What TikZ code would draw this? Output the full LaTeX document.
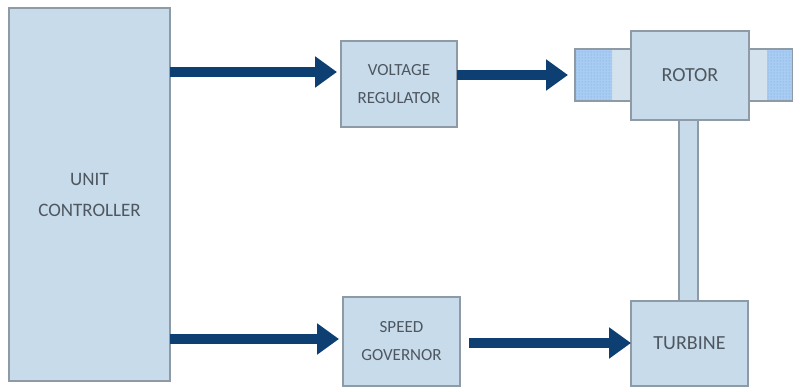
\documentclass[tikz,border=0pt]{standalone}
\usepackage{fontspec}
\setmainfont{Carlito}
\usetikzlibrary{arrows.meta,patterns}
\definecolor{boxfill}{HTML}{C8DBEA}
\definecolor{boxline}{HTML}{8E9BA6}
\definecolor{stubfill}{HTML}{D4E2EE}
\definecolor{coilfill}{HTML}{A9CDF2}
\definecolor{coildot}{HTML}{6FA0DA}
\definecolor{arrowcol}{HTML}{0D3F73}
\definecolor{labelcol}{HTML}{4E575F}
\tikzset{
  block/.style={draw=boxline, fill=boxfill, line width=1.2pt, inner sep=0pt, outer sep=0pt,
    text=labelcol, align=center, font=\fontsize{17}{28}\selectfont},
  flow/.style={draw=arrowcol, line width=10pt, -{Triangle[length=22pt,width=30pt]}},
  part/.style={draw=boxline, line width=1.2pt},
}
\begin{document}
\begin{tikzpicture}[x=1pt,y=-1pt]
\fill[white] (0,0) rectangle (793,388);
\useasboundingbox (0,0) rectangle (793,388);

% rotor shaft stubs with coil sections
\filldraw[part, fill=stubfill] (575,49) rectangle (631,101);
\fill[coilfill] (575,49) rectangle (612,101);
\fill[pattern=dots, pattern color=coildot] (575,49) rectangle (612,101);
\draw[part] (575,49) rectangle (631,101);
\filldraw[part, fill=stubfill] (749,49) rectangle (792.4,101);
\fill[coilfill] (767,49) rectangle (792.4,101);
\fill[pattern=dots, pattern color=coildot] (767,49) rectangle (792.4,101);
\draw[part] (749,49) rectangle (792.4,101);

% shaft between rotor and turbine
\filldraw[part, fill=boxfill] (679,115) rectangle (698,305);

% blocks
\node[block, minimum width=161pt, minimum height=373pt, font=\fontsize{19}{31}\selectfont] (uc) at (89.5,194.5) {UNIT\\CONTROLLER};
\node[block, minimum width=116pt, minimum height=86pt] (vr) at (399,84) {VOLTAGE\\REGULATOR};
\node[block, minimum width=117pt, minimum height=89pt] (sg) at (401.5,341.5) {SPEED\\GOVERNOR};
\node[block, minimum width=118pt, minimum height=89pt, font=\fontsize{20}{28}\selectfont] (rotor) at (690,75.5) {ROTOR};
\node[block, minimum width=117pt, minimum height=85pt, font=\fontsize{20}{28}\selectfont] (turb) at (689.5,343.5) {TURBINE};
\coordinate (stub) at (575,75);

% signal arrows
\draw[flow, shorten >=4pt] (uc.east |- 0,72) -- (vr.west |- 0,72);
\draw[flow, shorten >=4pt] (uc.east |- 0,339) -- (sg.west |- 0,339);
\draw[flow, shorten >=7pt] (vr.east |- stub) -- (stub);
\draw[flow, shorten <=9pt] (sg.east |- 0,343) -- (turb.west |- 0,343);
\end{tikzpicture}
\end{document}
